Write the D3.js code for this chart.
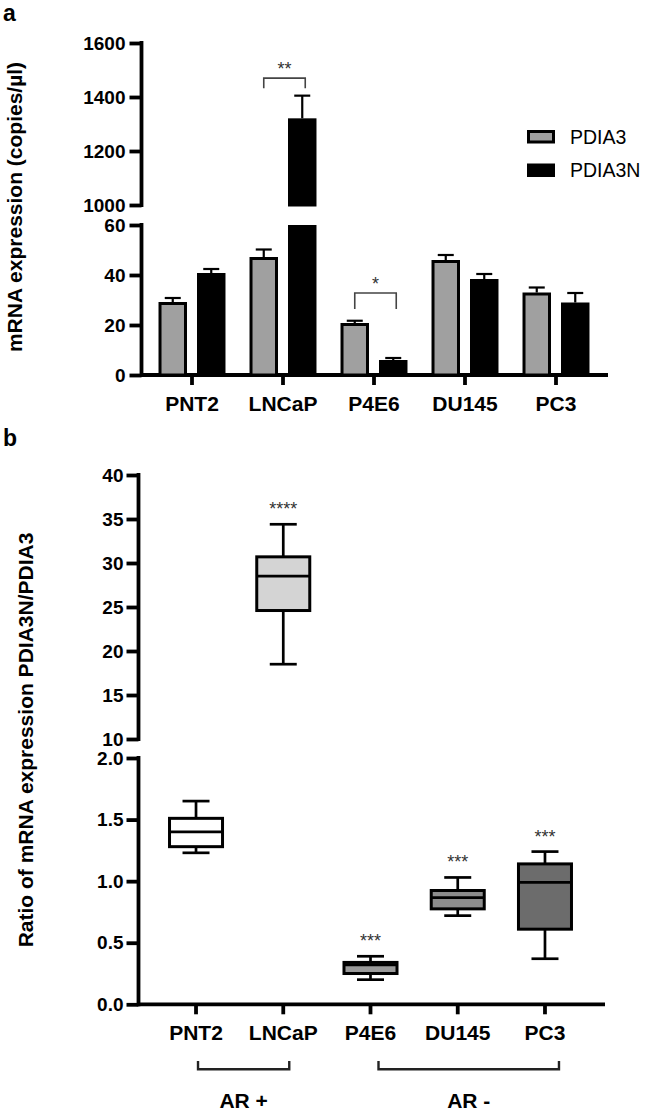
<!DOCTYPE html>
<html><head><meta charset="utf-8">
<script src="https://cdn.jsdelivr.net/npm/d3@7"></script>
<style>
body{margin:0;background:#fff}
svg{display:block}
text{font-family:"Liberation Sans",Arial,Helvetica,sans-serif}
</style>
</head><body>
<svg id="c" width="645" height="1112"></svg>
<script>
// ---------- data: panel a (bar chart, mean + SEM) ----------
const categories = ["PNT2", "LNCaP", "P4E6", "DU145", "PC3"];
const seriesNames = ["PDIA3", "PDIA3N"];
const pdia3Mean = [29.2, 47.2, 20.8, 46.0, 33.0];
const pdia3Err  = [1.6, 3.0, 0.9, 2.0, 2.0];
const pdia3nMean = [40.8, 1321, 6.0, 38.4, 29.0];
const pdia3nErr  = [1.6, 84, 0.8, 2.0, 3.8];
const barTicksLow  = [0, 20, 40, 60];
const barTicksHigh = [1000, 1200, 1400, 1600];
const barSigCats   = ["LNCaP", "P4E6"];
const barSigLabels = ["**", "*"];
const barSigLevel  = [1470, 32.8];
const barSigLeg    = [1432, 26.4];

// ---------- data: panel b (box plots) ----------
const boxMin    = [1.23, 18.5, 0.20, 0.72, 0.37];
const boxQ1     = [1.28, 24.6, 0.25, 0.775, 0.61];
const boxMedian = [1.40, 28.5, 0.32, 0.867, 0.99];
const boxQ3     = [1.51, 30.7, 0.34, 0.924, 1.14];
const boxMax    = [1.65, 34.4, 0.39, 1.03, 1.24];
const boxStars  = ["", "****", "***", "***", "***"];
const boxTicksLow  = [0, 0.5, 1.0, 1.5, 2.0];
const boxTicksHigh = [10, 15, 20, 25, 30, 35, 40];
const groupLabels = ["AR +", "AR -"];
const groupFrom   = ["PNT2", "P4E6"];
const groupTo     = ["LNCaP", "PC3"];

// ---------- styles ----------
const seriesColor = d3.scaleOrdinal().domain(seriesNames).range(["#a0a0a0", "#000000"]);
const boxColor = d3.scaleOrdinal().domain(categories).range(["#ffffff", "#d4d4d4", "#9a9a9a", "#8c8c8c", "#6c6c6c"]);
const AXW = 3.8;

const svg = d3.select("#c");

function styleAxis(g, fs) {
  g.select(".domain").remove();
  g.selectAll(".tick line").attr("stroke", "#000").attr("stroke-width", AXW);
  g.selectAll(".tick text").attr("fill", "#000").attr("font-size", fs).attr("font-weight", "bold")
    .attr("font-family", '"Liberation Sans",Arial,sans-serif');
}

// ================= PANEL A =================
svg.append("text").attr("x", 3).attr("y", 21).attr("font-size", 23).attr("font-weight", "bold").text("a");

const axA = 141.5;
const xA = d3.scaleBand().domain(categories).range([146.5, 601.5]).paddingInner(0.264).paddingOuter(0.132);
const xAsub = d3.scaleBand().domain(seriesNames).range([0, xA.bandwidth()]).paddingInner(0.26);
const yALow = d3.scaleLinear().domain([0, 60]).range([375, 225]);
const yAHigh = d3.scaleLinear().domain([1000, 1600]).range([205, 43]);

// y axis segments
[[yALow, barTicksLow], [yAHigh, barTicksHigh]].forEach(([sc, tv]) => {
  const g = svg.append("g").attr("transform", `translate(${axA},0)`)
    .call(d3.axisLeft(sc).tickValues(tv).tickSize(12).tickPadding(4).tickFormat(d3.format("d")));
  styleAxis(g, 19);
  svg.append("line").attr("x1", axA).attr("x2", axA).attr("y1", sc.range()[0]).attr("y2", sc.range()[1])
    .attr("stroke", "#000").attr("stroke-width", AXW).attr("stroke-linecap", "square");
});
// x axis
const gxA = svg.append("g").attr("transform", `translate(0,${yALow(0)})`)
  .call(d3.axisBottom(xA).tickSize(10).tickPadding(10));
styleAxis(gxA, 21);
gxA.selectAll(".tick text").attr("dy", "0.71em").attr("y", 21);
svg.append("line").attr("x1", axA).attr("x2", 608).attr("y1", yALow(0)).attr("y2", yALow(0))
  .attr("stroke", "#000").attr("stroke-width", AXW);

// bars
const barRows = [];
categories.forEach((c, i) => {
  barRows.push({cat: c, s: "PDIA3", v: pdia3Mean[i], e: pdia3Err[i]});
  barRows.push({cat: c, s: "PDIA3N", v: pdia3nMean[i], e: pdia3nErr[i]});
});
const lowMax = yALow.domain()[1], highMin = yAHigh.domain()[0];
const barG = svg.append("g");
barRows.forEach(d => {
  const x0 = xA(d.cat) + xAsub(d.s), w = xAsub.bandwidth(), cx = x0 + w / 2;
  const lowTop = yALow(Math.min(d.v, lowMax));
  barG.append("rect").attr("x", x0 + 1.5).attr("width", w - 3)
    .attr("y", lowTop + 1.5).attr("height", yALow(0) - lowTop - 1.5)
    .attr("fill", seriesColor(d.s)).attr("stroke", "#000").attr("stroke-width", 3);
  if (d.v > highMin) {
    barG.append("rect").attr("x", x0 + 1.5).attr("width", w - 3)
      .attr("y", yAHigh(d.v) + 1.5).attr("height", yAHigh(highMin) - yAHigh(d.v) - 1.5)
      .attr("fill", seriesColor(d.s)).attr("stroke", "#000").attr("stroke-width", 3);
  }
  const sc = d.v > highMin ? yAHigh : yALow;
  const yT = sc(d.v + d.e), yB = sc(d.v);
  barG.append("line").attr("x1", cx).attr("x2", cx).attr("y1", yB).attr("y2", yT)
    .attr("stroke", "#000").attr("stroke-width", 2.2);
  barG.append("line").attr("x1", cx - 8).attr("x2", cx + 8).attr("y1", yT).attr("y2", yT)
    .attr("stroke", "#000").attr("stroke-width", 2.2);
});

// significance brackets
barSigCats.forEach((c, i) => {
  const sc = barSigLevel[i] > highMin ? yAHigh : yALow;
  const xl = xA(c) + xAsub("PDIA3") + xAsub.bandwidth() / 2;
  const xr = xA(c) + xAsub("PDIA3N") + xAsub.bandwidth() / 2 + 3;
  const yl = sc(barSigLevel[i]), yg = sc(barSigLeg[i]);
  svg.append("path").attr("d", `M${xl},${yg}V${yl}H${xr}V${yg}`)
    .attr("fill", "none").attr("stroke", "#444").attr("stroke-width", 1.6);
  svg.append("text").attr("x", (xl + xr) / 2).attr("y", yl - 3).attr("text-anchor", "middle")
    .attr("font-size", 18).attr("fill", "#333").text(barSigLabels[i]);
});

// legend
const lg = svg.append("g");
seriesNames.forEach((s, i) => {
  const y = 130 + i * 33.5;
  lg.append("rect").attr("x", 528.5).attr("y", y + 1.5).attr("width", 25).attr("height", 10.5)
    .attr("fill", seriesColor(s)).attr("stroke", "#000").attr("stroke-width", 3);
  lg.append("text").attr("x", 570).attr("y", y + 13.5).attr("font-size", 19.5).attr("fill", "#000").text(s);
});

// y title
svg.append("text").attr("transform", "translate(22,207) rotate(-90)").attr("text-anchor", "middle")
  .attr("font-size", 21).attr("font-weight", "bold").text("mRNA expression (copies/µl)");

// ================= PANEL B =================
svg.append("text").attr("x", 3).attr("y", 446).attr("font-size", 23).attr("font-weight", "bold").text("b");

const axB = 138.5;
const xB = d3.scaleBand().domain(categories).range([152.4, 588.6]).paddingInner(0.358).paddingOuter(0.179);
const yBLow = d3.scaleLinear().domain([0, 2]).range([1004.3, 758]);
const yBHigh = d3.scaleLinear().domain([10, 40]).range([739, 475]);

[[yBLow, boxTicksLow, d3.format(".1f")], [yBHigh, boxTicksHigh, d3.format("d")]].forEach(([sc, tv, f]) => {
  const g = svg.append("g").attr("transform", `translate(${axB},0)`)
    .call(d3.axisLeft(sc).tickValues(tv).tickSize(12).tickPadding(3).tickFormat(f));
  styleAxis(g, 19);
  svg.append("line").attr("x1", axB).attr("x2", axB).attr("y1", sc.range()[0]).attr("y2", sc.range()[1])
    .attr("stroke", "#000").attr("stroke-width", AXW).attr("stroke-linecap", "square");
});
const gxB = svg.append("g").attr("transform", `translate(0,${yBLow(0)})`)
  .call(d3.axisBottom(xB).tickSize(10).tickPadding(10));
styleAxis(gxB, 21);
gxB.selectAll(".tick text").attr("dy", "0.71em").attr("y", 21);
svg.append("line").attr("x1", axB).attr("x2", 605).attr("y1", yBLow(0)).attr("y2", yBLow(0))
  .attr("stroke", "#000").attr("stroke-width", AXW);

// boxes
const boxG = svg.append("g");
categories.forEach((c, i) => {
  const sc = boxMin[i] >= yBHigh.domain()[0] ? yBHigh : yBLow;
  const x0 = xB(c), w = xB.bandwidth(), cx = x0 + w / 2, cap = 13.5;
  const line = (x1, x2, y1, y2) => boxG.append("line").attr("x1", x1).attr("x2", x2).attr("y1", y1).attr("y2", y2)
    .attr("stroke", "#000").attr("stroke-width", 2.7);
  line(cx, cx, sc(boxMax[i]), sc(boxQ3[i]));
  line(cx, cx, sc(boxQ1[i]), sc(boxMin[i]));
  line(cx - cap, cx + cap, sc(boxMax[i]), sc(boxMax[i]));
  line(cx - cap, cx + cap, sc(boxMin[i]), sc(boxMin[i]));
  boxG.append("rect").attr("x", x0 + 1.5).attr("width", w - 3)
    .attr("y", sc(boxQ3[i])).attr("height", sc(boxQ1[i]) - sc(boxQ3[i]))
    .attr("fill", boxColor(c)).attr("stroke", "#000").attr("stroke-width", 3);
  line(x0 + 1.5, x0 + w - 1.5, sc(boxMedian[i]), sc(boxMedian[i]));
  if (boxStars[i]) {
    boxG.append("text").attr("x", cx).attr("y", sc(boxMax[i]) - 9).attr("text-anchor", "middle")
      .attr("font-size", 18).attr("fill", "#333").text(boxStars[i]);
  }
});

// group brackets
const grpOff = [[2, 6], [8, 14]];
groupLabels.forEach((lab, i) => {
  const xl = xB(groupFrom[i]) + xB.bandwidth() / 2 + grpOff[i][0];
  const xr = xB(groupTo[i]) + xB.bandwidth() / 2 + grpOff[i][1];
  svg.append("path").attr("d", `M${xl},1061V1069.3H${xr}V1061`).attr("fill", "none")
    .attr("stroke", "#222").attr("stroke-width", 2.4);
  svg.append("text").attr("x", (xl + xr) / 2).attr("y", 1108).attr("text-anchor", "middle")
    .attr("font-size", 21).attr("font-weight", "bold").text(lab);
});

svg.append("text").attr("transform", "translate(33,740) rotate(-90)").attr("text-anchor", "middle")
  .attr("font-size", 21).attr("font-weight", "bold").text("Ratio of mRNA expression PDIA3N/PDIA3");
</script>
</body></html>
